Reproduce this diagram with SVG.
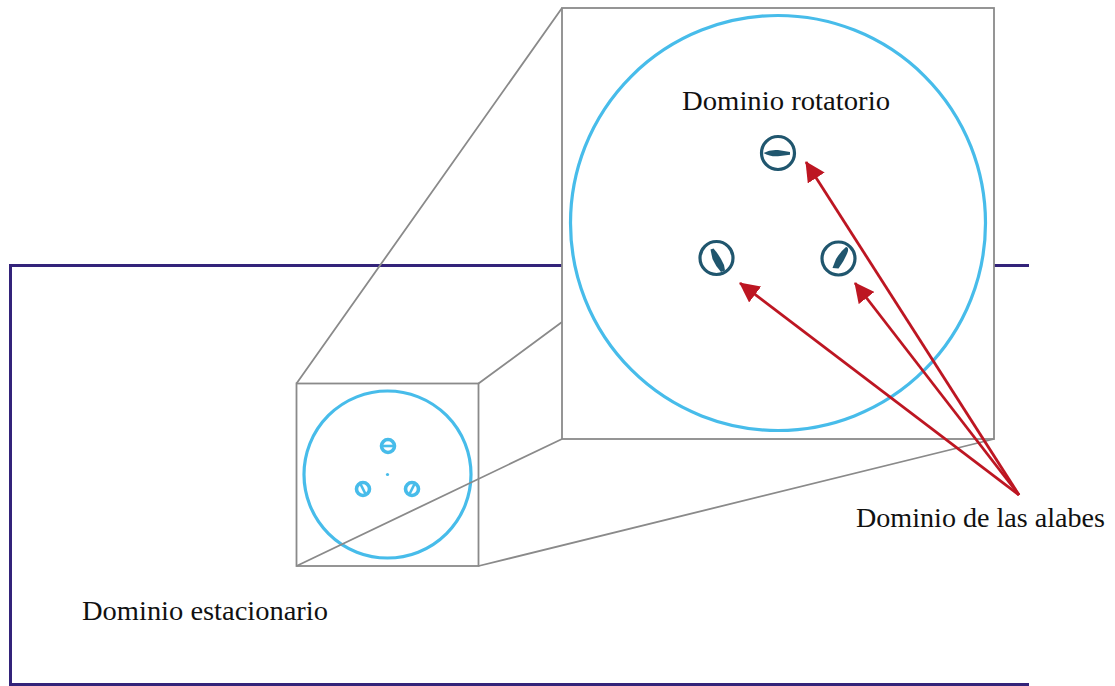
<svg xmlns="http://www.w3.org/2000/svg" width="1115" height="686" viewBox="0 0 1115 686">
<style>
.t{font-family:"Liberation Serif","Times New Roman",serif;font-size:28px;fill:#111}
.g{fill:none;stroke:#8a8a8a;stroke-width:1.8}
.c{fill:none;stroke:#47bcea;stroke-width:3.2}
.s{fill:none;stroke:#47bcea;stroke-width:3.6}
.d{fill:none;stroke:#20566e;stroke-width:3.2}
.b{fill:#20566e}
.r{fill:none;stroke:#bd1622;stroke-width:2.8;marker-end:url(#ah)}
</style>
<defs>
<marker id="ah" markerUnits="userSpaceOnUse" markerWidth="20" markerHeight="20" refX="19" refY="10" orient="auto" viewBox="0 0 20 20"><path d="M0 0L20 10L0 20Z" fill="#bd1622"/></marker>
</defs>
<rect width="1115" height="686" fill="#fff"/>
<g id="stationary-domain">
<path d="M1029 265.500H10.500V684.500H1029" fill="none" stroke="#33237a" stroke-width="3"/>
<text class="t" x="82" y="620" textLength="246" lengthAdjust="spacingAndGlyphs">Dominio estacionario</text>
</g>
<g id="zoom-lines">
<path class="g" d="M296.500 383.500L562 8M478.500 383.500L562 322"/>
</g>
<g id="rotating-detail">
<rect x="562" y="8" width="432" height="431" fill="#fff" stroke="#8a8a8a" stroke-width="1.800"/>
<circle class="c" cx="778" cy="223" r="207.500"/>
<text class="t" x="682" y="110" textLength="208" lengthAdjust="spacingAndGlyphs">Dominio rotatorio</text>
</g>
<g id="blade-top">
<circle class="d" cx="778" cy="153" r="16.500"/>
<path class="b" d="M763.500 153Q770 149.300 778 150L790 152V154.800L778 156.300Q770 156.800 763.500 153Z"/>
</g>
<g id="blade-left">
<circle class="d" cx="716.500" cy="258" r="16.500"/>
<path class="b" d="M710.500 249.500L713.500 248.500Q719.500 255 724 265L725 270.500L721 272Q715.500 266 712.500 259Z"/>
</g>
<g id="blade-right">
<circle class="d" cx="838.500" cy="258.500" r="16.500"/>
<path class="b" d="M846 247Q848.500 247 848 251Q845.500 259 838.500 268.500L832.500 268L836 259Q841 251 846 247Z"/>
</g>
<g id="small-domain">
<rect x="296.500" y="383.500" width="182" height="182.500" fill="none" stroke="#8a8a8a" stroke-width="1.800"/>
<circle class="c" cx="387.500" cy="474.500" r="83.500"/>
<circle cx="387.500" cy="474.500" r="1.600" fill="#47bcea"/>
<g id="small-blade-top"><circle class="s" cx="388" cy="446" r="6.500"/><path d="M381 446H395" stroke="#47bcea" stroke-width="2.600"/></g>
<g id="small-blade-left"><circle class="s" cx="363" cy="489" r="6.500"/><path d="M360 483L366 495" stroke="#47bcea" stroke-width="2.600"/></g>
<g id="small-blade-right"><circle class="s" cx="412" cy="489" r="6.500"/><path d="M415 483L409 495" stroke="#47bcea" stroke-width="2.600"/></g>
</g>
<g id="zoom-lines-front">
<path class="g" d="M296.500 566L562 439M478.500 566L994 439"/>
</g>
<g id="connectors">
<path class="r" d="M1019 495L806 162"/>
<path class="r" d="M1019 495L855 283"/>
<path class="r" d="M1019 495L740 283"/>
</g>
<g id="blades-label">
<text class="t" x="856" y="527" textLength="249" lengthAdjust="spacingAndGlyphs">Dominio de las alabes</text>
</g>
</svg>
